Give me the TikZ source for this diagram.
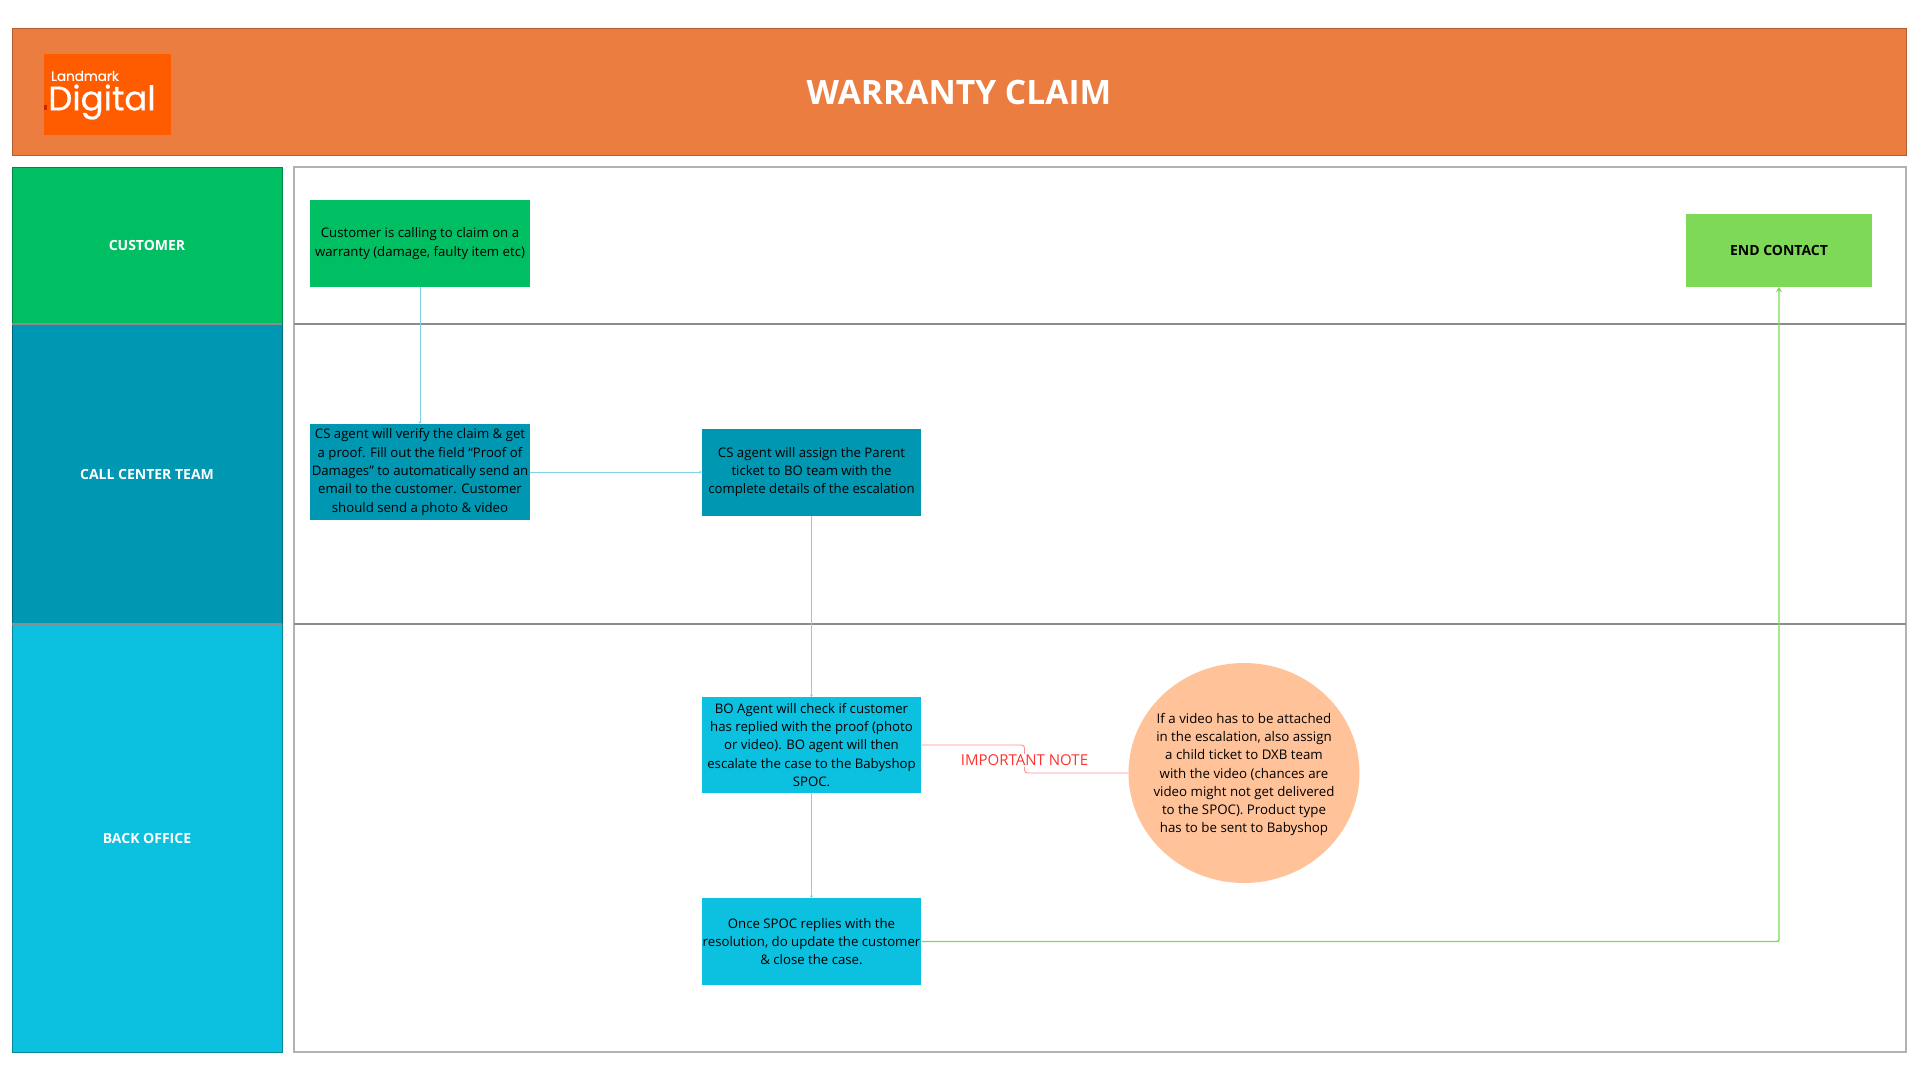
\documentclass[tikz,border=0pt]{standalone}
\usepackage{fontspec}
\setmainfont{Open Sans}
\newfontfamily\logofont[FakeBold=0.5]{Poppins}
\usetikzlibrary{arrows.meta, positioning, shapes.geometric}

\definecolor{headcol}{HTML}{EB7D40}
\definecolor{logocol}{HTML}{FF5C00}
\definecolor{custcol}{HTML}{00BF63}
\definecolor{callcol}{HTML}{0097B2}
\definecolor{backcol}{HTML}{0CC0DF}
\definecolor{endcol}{HTML}{7ED957}
\definecolor{notecol}{HTML}{FFC299}
\definecolor{flowcol}{HTML}{7FD3E6}
\definecolor{redcol}{HTML}{FF3131}
\definecolor{redline}{HTML}{FF8F96}

\begin{document}
\begin{tikzpicture}[
    x=1pt, y=-1pt,
    % Swimlane title on the left
    lane/.style={
        rectangle, inner sep=0pt, outer sep=0pt,
        minimum width=270pt, text=white,
        font=\fontsize{14}{16}\selectfont\bfseries
    },
    % White panel on the right of a lane
    panel/.style={
        rectangle, draw=black!30, line width=1.2pt, fill=white,
        inner sep=0pt, outer sep=0pt, minimum width=1612pt
    },
    % Box shape shared by all process boxes
    plainbox/.style={
        rectangle, inner sep=0pt, outer sep=0pt, text=black,
        minimum width=219.5pt, align=center
    },
    % Process box, the strut sets the text a little lower
    stepbox/.style={
        plainbox,
        font=\fontsize{13.2}{18.3}\selectfont,
        execute at begin node={\rule{0pt}{16pt}}
    },
    % Line between two lanes
    divider/.style={draw=black!45, line width=2.4pt},
    % Connectors
    flow/.style={draw=flowcol, line width=1pt, -{Stealth[length=2.5pt,width=3pt]}},
    noteline/.style={draw=redline, line width=0.9pt, rounded corners=3pt},
    endline/.style={draw=endcol, line width=1.4pt, rounded corners=2pt, -{Stealth[length=5pt,width=6pt]}},
]

\useasboundingbox (0,0) rectangle (1920,1080);
\fill[white] (0,0) rectangle (1920,1080);

% ============================================================
% HEADER
% ============================================================
\node[rectangle, draw=headcol!75!black, fill=headcol, line width=0.8pt, inner sep=0pt,
    minimum width=1894pt, minimum height=127pt] (head) at (959,91.5) {};
\node[rectangle, fill=logocol, inner sep=0pt, minimum width=127pt, minimum height=81pt]
    (logo) at (107.5,94.5) {};
\fill[black!30!red!70!orange] (44,105) rectangle (47,110);
\node[text=white, font=\fontsize{13.5}{16}\logofont\selectfont, inner sep=0pt] (logo-top) at (85,76) {Landmark};
\node[text=white, font=\fontsize{34}{38}\logofont\selectfont, inner sep=0pt] (logo-name) at (102,102) {Digital};
\node[text=white, font=\fontsize{33.6}{38}\selectfont\bfseries, inner sep=0pt] (title) at (959,92) {WARRANTY CLAIM};

% ============================================================
% LANES
% ============================================================
\node[lane, draw=custcol!70!black, fill=custcol, minimum height=157pt] (lane-cust) at (147,245.5) {CUSTOMER};
\node[lane, draw=callcol!70!black, fill=callcol, minimum height=300pt] (lane-call) at (147,474) {CALL CENTER TEAM};
\node[lane, draw=backcol!70!black, fill=backcol, minimum height=428pt] (lane-back) at (147,838) {BACK OFFICE};

\node[panel, minimum height=157pt] (p-cust) at (1100,245.5) {};
\node[panel, minimum height=300pt] (p-call) at (1100,474) {};
\node[panel, minimum height=428pt] (p-back) at (1100,838) {};

\draw[divider] (lane-cust.south west) -- (lane-cust.south east);
\draw[divider] (lane-call.south west) -- (lane-call.south east);
\draw[divider] (p-cust.south west) -- (p-cust.south east);
\draw[divider] (p-call.south west) -- (p-call.south east);

% ============================================================
% PROCESS BOXES
% ============================================================
\node[stepbox, fill=custcol, minimum height=87pt] (s-claim) at (420,243.5)
    {Customer is calling to claim on a\\warranty (damage, faulty item etc)};
\node[stepbox, fill=callcol, minimum height=96pt] (s-verify) at (420,472)
    {CS agent will verify the claim \& get\\a proof. Fill out the field “Proof of\\Damages” to automatically send an\\email to the customer. Customer\\should send a photo \& video};
\node[stepbox, fill=callcol, minimum height=87pt] (s-assign) at (811.5,472)
    {CS agent will assign the Parent\\ticket to BO team with the\\complete details of the escalation};
\node[stepbox, fill=backcol, minimum height=96pt] (s-check) at (811.5,745)
    {BO Agent will check if customer\\has replied with the proof (photo\\or video). BO agent will then\\escalate the case to the Babyshop\\SPOC.};
\node[stepbox, fill=backcol, minimum height=87pt] (s-close) at (811.5,941.5)
    {Once SPOC replies with the\\resolution, do update the customer\\\& close the case.};
\node[plainbox, fill=endcol, minimum width=186pt, minimum height=73pt,
    font=\fontsize{14}{16}\selectfont\bfseries] (s-end) at (1779,250.5) {END CONTACT};

% Note bubble, text on top so it does not stretch the shape
\node[ellipse, fill=notecol, inner sep=0pt, outer sep=0pt, minimum width=231pt, minimum height=220pt] (n-video) at (1244,773) {};
\node[inner sep=0pt, align=center, yshift=-1.5pt, font=\fontsize{13.3}{18.3}\selectfont] (t-video) at (n-video)
    {If a video has to be attached\\in the escalation, also assign\\a child ticket to DXB team\\with the video (chances are\\video might not get delivered\\to the SPOC). Product type\\has to be sent to Babyshop};

% ============================================================
% CONNECTORS
% ============================================================
\coordinate (bend) at (1024.5,760);

\draw[flow] (s-claim) -- (s-verify);
\draw[flow] (s-verify) -- (s-assign);
\draw[flow] (s-assign) -- (s-check);
\draw[flow] (s-check) -- (s-close);
\draw[noteline] (s-check.east) -| (bend) |- (n-video.west);
\draw[endline] (s-close.east) -| (s-end.south);

\node[fill=white, text=redcol, inner sep=1pt, font=\fontsize{15}{18}\selectfont] (l-note) at (bend) {IMPORTANT NOTE};

\end{tikzpicture}
\end{document}
